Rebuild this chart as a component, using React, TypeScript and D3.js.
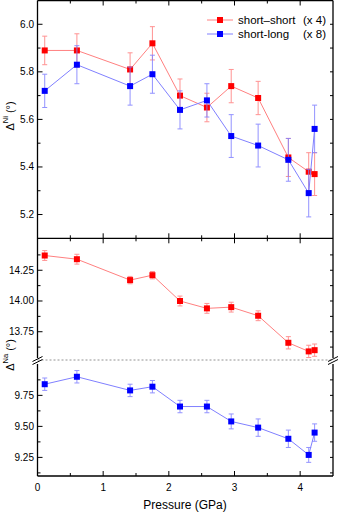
import React, { useEffect, useRef } from 'react';
import * as d3 from 'd3';

// pressure (GPa)
const pressure = [0.11, 0.6, 1.41, 1.75, 2.17, 2.58, 2.95, 3.36, 3.82, 4.13, 4.22];

// top panel: Delta Ni
const niShortShort = [5.89, 5.89, 5.81, 5.92, 5.7, 5.65, 5.74, 5.69, 5.44, 5.38, 5.37];
const niShortShortErr = [0.06, 0.07, 0.07, 0.07, 0.07, 0.06, 0.07, 0.07, 0.08, 0.08, 0.09];
const niShortLong = [5.72, 5.83, 5.74, 5.79, 5.64, 5.68, 5.53, 5.49, 5.43, 5.29, 5.56];
const niShortLongErr = [0.07, 0.08, 0.08, 0.08, 0.08, 0.07, 0.09, 0.09, 0.09, 0.1, 0.1];

// bottom panel: Delta Na
const naShortShort = [14.37, 14.34, 14.17, 14.21, 14.0, 13.94, 13.95, 13.88, 13.66, 13.59, 13.6];
const naShortShortErr = [0.04, 0.04, 0.03, 0.03, 0.04, 0.04, 0.04, 0.04, 0.05, 0.05, 0.05];
const naShortLong = [9.84, 9.9, 9.79, 9.82, 9.66, 9.66, 9.54, 9.49, 9.4, 9.27, 9.45];
const naShortLongErr = [0.05, 0.05, 0.05, 0.05, 0.05, 0.05, 0.06, 0.07, 0.07, 0.06, 0.07];

const xTicks = [0, 1, 2, 3, 4];
const niTicks = [5.2, 5.4, 5.6, 5.8, 6.0];
const naUpperTicks = [13.75, 14.0, 14.25];
const naLowerTicks = [9.25, 9.5, 9.75];
const legendLabels = ['short\u2013short', 'short-long'];
const legendFactors = ['(x 4)', '(x 8)'];

const RED = '#ff0000';
const BLUE = '#0000ff';
const RED_LIGHT = '#ff8080';
const BLUE_LIGHT = '#8080ff';

const App = () => {
  const ref = useRef(null);

  useEffect(() => {
    const svg = d3.select(ref.current);
    svg.selectAll('*').remove();

    const left = 37.5, right = 333;
    const topY = 0.5, midY = 238.3, botY = 476;
    const breakY = 360;
    const font = 'Liberation Sans, Arial, sans-serif';

    const x = d3.scaleLinear().domain([0, 4.5]).range([left, right]);
    const yNi = d3.scaleLinear().domain([5.1, 6.1]).range([midY, topY]);
    const yUp = d3.scaleLinear().domain([13.52, 14.51]).range([breakY, midY]);
    const yLo = d3.scaleLinear().domain([9.1, 9.99]).range([botY, 365.6]);

    const g = svg.append('g');

    // dashed break line
    g.append('line')
      .attr('x1', left).attr('x2', right)
      .attr('y1', breakY).attr('y2', breakY)
      .attr('stroke', '#777').attr('stroke-width', 0.8)
      .attr('stroke-dasharray', '2,2');

    // frame
    const ax = g.append('g').attr('stroke', '#000').attr('stroke-width', 1.3).attr('fill', 'none');
    ax.append('line').attr('x1', left).attr('x2', right).attr('y1', topY).attr('y2', topY);
    ax.append('line').attr('x1', left).attr('x2', right).attr('y1', midY).attr('y2', midY);
    ax.append('line').attr('x1', left).attr('x2', right).attr('y1', botY).attr('y2', botY);
    [left, right].forEach(xx => {
      ax.append('line').attr('x1', xx).attr('x2', xx).attr('y1', topY).attr('y2', breakY - 2);
      ax.append('line').attr('x1', xx).attr('x2', xx).attr('y1', breakY + 4).attr('y2', botY);
    });

    // break marks
    [left, right].forEach(xx => {
      [-1.5, 1.5].forEach(o => {
        ax.append('line')
          .attr('x1', xx - 5).attr('y1', breakY + 3 + o)
          .attr('x2', xx + 5).attr('y2', breakY - 2 + o)
          .attr('stroke-width', 1);
      });
    });

    // x ticks (every 0.5)
    const tk = g.append('g').attr('stroke', '#000').attr('stroke-width', 1);
    d3.range(0.5, 4.5, 0.5).forEach(v => {
      const len = Number.isInteger(v) ? 5 : 3;
      const xx = x(v);
      tk.append('line').attr('x1', xx).attr('x2', xx).attr('y1', topY).attr('y2', topY + len);
      tk.append('line').attr('x1', xx).attr('x2', xx).attr('y1', midY - len).attr('y2', midY + len);
      tk.append('line').attr('x1', xx).attr('x2', xx).attr('y1', botY).attr('y2', botY - len);
    });

    const yTicks = (scale, majors, minors) => {
      majors.forEach(v => {
        tk.append('line').attr('x1', left).attr('x2', left + 5).attr('y1', scale(v)).attr('y2', scale(v));
        tk.append('line').attr('x1', right).attr('x2', right - 3).attr('y1', scale(v)).attr('y2', scale(v));
      });
      minors.forEach(v => {
        tk.append('line').attr('x1', left).attr('x2', left + 3).attr('y1', scale(v)).attr('y2', scale(v));
        tk.append('line').attr('x1', right).attr('x2', right - 3).attr('y1', scale(v)).attr('y2', scale(v));
      });
    };
    yTicks(yNi, [5.2, 5.4, 5.6, 5.8, 6.0], [5.3, 5.5, 5.7, 5.9]);
    yTicks(yUp, [13.75, 14.0, 14.25], [13.625, 13.875, 14.125, 14.375]);
    yTicks(yLo, [9.25, 9.5, 9.75], [9.125, 9.375, 9.625, 9.875]);

    // tick labels
    const lab = g.append('g').attr('font-family', font).attr('font-size', 10).attr('fill', '#000');
    niTicks.forEach(v => {
      lab.append('text').attr('x', 34).attr('y', yNi(v)).attr('dy', '0.35em')
        .attr('text-anchor', 'end').text(d3.format('.1f')(v));
    });
    naUpperTicks.forEach(v => {
      lab.append('text').attr('x', 34).attr('y', yUp(v)).attr('dy', '0.35em')
        .attr('text-anchor', 'end').text(d3.format('.2f')(v));
    });
    naLowerTicks.forEach(v => {
      lab.append('text').attr('x', 34).attr('y', yLo(v)).attr('dy', '0.35em')
        .attr('text-anchor', 'end').text(d3.format('.2f')(v));
    });
    xTicks.forEach(v => {
      lab.append('text').attr('x', x(v)).attr('y', 491)
        .attr('text-anchor', 'middle').text(v);
    });
    lab.append('text').attr('x', 185).attr('y', 509)
      .attr('text-anchor', 'middle').attr('font-size', 12).text('Pressure (GPa)');

    // y axis titles
    const yTitle = (cy, sup) => {
      const t = lab.append('text')
        .attr('transform', `translate(13.5,${cy}) rotate(-90)`)
        .attr('text-anchor', 'middle').attr('font-size', 11);
      t.append('tspan').text('\u0394');
      t.append('tspan').attr('font-size', 7.5).attr('dy', -6).text(sup);
      t.append('tspan').attr('dy', 6).text(' (\u00b0)');
    };
    yTitle(116, 'Ni');
    yTitle(355, 'Na');

    // series
    const drawSeries = (vals, errs, scale, col, light) => {
      const pts = pressure.map((p, i) => ({ p, v: vals[i], e: errs[i] }));
      const line = d3.line().x(d => x(d.p)).y(d => scale(d.v));
      g.append('path').datum(pts).attr('d', line)
        .attr('fill', 'none').attr('stroke', light).attr('stroke-width', 1);
      const eb = g.append('g').attr('stroke', light).attr('stroke-width', 1).attr('opacity', 0.85);
      pts.forEach(d => {
        const xx = x(d.p);
        eb.append('line').attr('x1', xx).attr('x2', xx).attr('y1', scale(d.v - d.e)).attr('y2', scale(d.v + d.e));
        eb.append('line').attr('x1', xx - 2.5).attr('x2', xx + 2.5).attr('y1', scale(d.v - d.e)).attr('y2', scale(d.v - d.e));
        eb.append('line').attr('x1', xx - 2.5).attr('x2', xx + 2.5).attr('y1', scale(d.v + d.e)).attr('y2', scale(d.v + d.e));
      });
      g.append('g').selectAll('rect').data(pts).enter().append('rect')
        .attr('x', d => x(d.p) - 3).attr('y', d => scale(d.v) - 3)
        .attr('width', 6).attr('height', 6).attr('fill', col);
    };
    drawSeries(niShortShort, niShortShortErr, yNi, RED, RED_LIGHT);
    drawSeries(niShortLong, niShortLongErr, yNi, BLUE, BLUE_LIGHT);
    drawSeries(naShortShort, naShortShortErr, yUp, RED, RED_LIGHT);
    drawSeries(naShortLong, naShortLongErr, yLo, BLUE, BLUE_LIGHT);

    // legend
    const lg = g.append('g').attr('font-family', font).attr('font-size', 11.5);
    [[RED, RED_LIGHT], [BLUE, BLUE_LIGHT]].forEach(([c, l], i) => {
      const yy = 20 + i * 14;
      lg.append('line').attr('x1', 207).attr('x2', 233).attr('y1', yy).attr('y2', yy)
        .attr('stroke', l).attr('stroke-width', 1);
      lg.append('rect').attr('x', 217).attr('y', yy - 3).attr('width', 6).attr('height', 6).attr('fill', c);
      lg.append('text').attr('x', 238).attr('y', yy).attr('dy', '0.35em').text(legendLabels[i]);
      lg.append('text').attr('x', 303).attr('y', yy).attr('dy', '0.35em').text(legendFactors[i]);
    });
  }, []);

  return (
    <svg ref={ref} width={339} height={512}
      style={{ position: 'absolute', left: 0, top: 0, background: '#fff' }} />
  );
};

export default App;
